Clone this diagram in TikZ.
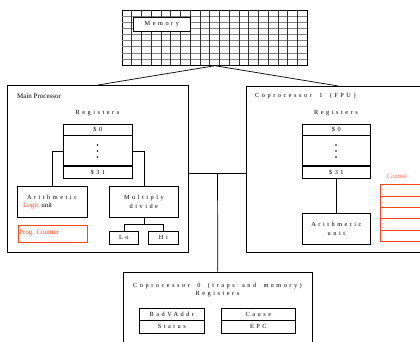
\documentclass[tikz,border=0pt]{standalone}
\usepackage{fontspec}
\setmainfont{Liberation Serif}
\newfontfamily\spfont[LetterSpace=40,WordSpace=1.8]{Liberation Serif}
\usetikzlibrary{calc}
\definecolor{pcred}{RGB}{250,70,20}
\definecolor{ctlred}{RGB}{250,110,90}
\begin{document}
\begin{tikzpicture}[x=1pt,y=-1pt,
  box/.style={draw,line width=0.7pt,inner sep=0pt,anchor=north west},
  sp/.style={font=\fontsize{6.3}{8.5}\spfont,inner sep=0pt,align=center},
  nt/.style={font=\fontsize{7}{8}\selectfont,inner sep=0pt},
  wire/.style={line width=0.7pt},
  sep/.style={line width=1.3pt}]
\path[use as bounding box] (0,0) rectangle (420,341);
\clip (0,0) rectangle (420,341);
% Memory
\node[box,minimum width=185pt,minimum height=55pt] (mem) at (122,10) {};
\foreach \j in {1,...,8} \draw[gray,line width=0.5pt] (122,{10+\j*55/9}) -- (307,{10+\j*55/9});
\foreach \i in {1,...,18} \draw[black!80,line width=0.5pt] ({122+\i*185/19},10) -- ({122+\i*185/19},65);
\node[box,fill=white,minimum width=57pt,minimum height=14pt,sp] (memlbl) at (133,17) {Memory};
% Main processor
\node[box,minimum width=181pt,minimum height=167pt] (mainp) at (7,85) {};
\node[nt,anchor=west] (mptitle) at (17,96) {Main Processor};
\node[sp] (mpreg) at (97.5,113) {Registers};
\node[box,sp,minimum width=69pt,minimum height=11pt] (r0) at (63,124) {\$0};
\node[box,minimum width=69pt,minimum height=31pt] (rm) at (63,135) {};
\node[box,sp,minimum width=69pt,minimum height=12pt] (r31) at (63,166) {\$31};
\draw[sep] (r0.south west) -- (r0.south east);
\draw[sep] (r31.north west) -- (r31.north east);
\foreach \y in {145,151,157} \fill (97.5,\y) circle (0.9);
\node[box,minimum width=70pt,minimum height=31pt] (alu) at (17,186) {};
\node[sp] (alutxt) at (52,197) {Arithmetic};
\node[nt,anchor=west] (logictxt) at (23,205.5) {\textcolor{pcred}{Logic} unit};
\node[box,sp,minimum width=69pt,minimum height=31pt] (mul) at (109,186) {Multiply\\divide};
\node[box,draw=pcred,line width=0.9pt,minimum width=69pt,minimum height=17pt] (pc) at (18,225) {};
\node[nt,text=pcred,anchor=west] (pctxt) at (19,233) {Prog. Counter};
\node[box,sp,minimum width=29pt,minimum height=13pt] (lo) at (109,231) {Lo};
\node[box,sp,minimum width=30pt,minimum height=13pt] (hi) at (148,231) {Hi};
\draw[wire] (rm.west) -| (alu.north);
\draw[wire] (rm.east) -| (mul.north);
\draw[wire] (mul.south) -- ($(mul.south)+(0,7)$);
\draw[wire] (lo.north) -- ++(0,-7) -| (hi.north);
% Coprocessor 1
\node[box,minimum width=184pt,minimum height=166pt] (cop1) at (246,86) {};
\node[sp,anchor=west] (c1title) at (255,96) {Coprocessor 1 (FPU)};
\node[sp] (c1reg) at (336,113) {Registers};
\node[box,sp,minimum width=68pt,minimum height=11pt] (c1r0) at (302,124) {\$0};
\node[box,minimum width=68pt,minimum height=31pt] (c1rm) at (302,135) {};
\node[box,sp,minimum width=68pt,minimum height=12pt] (c1r31) at (302,166) {\$31};
\draw[sep] (c1r0.south west) -- (c1r0.south east);
\draw[sep] (c1r31.north west) -- (c1r31.north east);
\foreach \y in {145,151,157} \fill (336,\y) circle (0.9);
\node[box,sp,minimum width=68pt,minimum height=31pt] (c1alu) at (302,213) {Arithmetic\\unit};
\draw[wire] (c1r31.south) -- (c1alu.north);
\node[nt,text=ctlred,font=\fontsize{6.5}{8}\selectfont] (ctltxt) at (397,176) {Control};
\node[box,draw=pcred,line width=0.9pt,minimum width=50pt,minimum height=57pt] (ctl) at (380,184) {};
\foreach \y in {196,207,218,230} \draw[pcred,line width=1pt] (ctl.west |- 0,\y) -- (ctl.east |- 0,\y);
% Coprocessor 0
\node[box,minimum width=189pt,minimum height=80pt] (cop0) at (123,272) {};
\node[sp] (c0title) at (217.5,286) {Coprocessor 0 (traps and memory)};
\node[sp] (c0reg) at (217.5,294.5) {Registers};
\node[box,sp,minimum width=65pt,minimum height=12pt] (bad) at (139,308) {BadVAddr};
\node[box,sp,minimum width=65pt,minimum height=13pt] (status) at (139,320) {Status};
\node[box,sp,minimum width=74pt,minimum height=12pt] (cause) at (221,308) {Cause};
\node[box,sp,minimum width=74pt,minimum height=13pt] (epc) at (221,320) {EPC};
\draw[sep] (bad.south west) -- (bad.south east);
\draw[sep] (cause.south west) -- (cause.south east);
% buses
\draw[wire] (mem.south) -- (mainp.north);
\draw[wire] (mem.south) -- (cop1.north);
\coordinate (bus) at (217.5,173);
\draw[wire] (bus -| mainp.east) -- (bus -| cop1.west);
\draw[wire] (bus) -- (cop0.north);
\end{tikzpicture}
\end{document}
